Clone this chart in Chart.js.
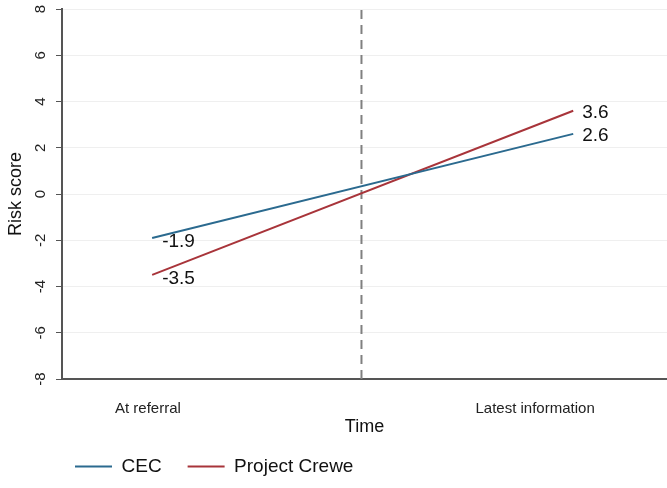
<!DOCTYPE html>
<html>
<head>
<meta charset="utf-8">
<script src="https://cdn.jsdelivr.net/npm/chart.js@4/dist/chart.umd.min.js"></script>
<style>
  html, body { margin: 0; padding: 0; background: #fff; }
  #wrap { width: 667px; height: 488px; }
</style>
</head>
<body>
<div id="wrap"><canvas id="riskChart"></canvas></div>
<script>
// values
var timeLabels = ["At referral", "Latest information"];
var timePos = [0.149, 0.845];      // where the two time points sit on the x axis
var labelPos = [0.142, 0.782];     // where the category labels are printed
var cecScores = [-1.9, 2.6];
var creweScores = [-3.5, 3.6];
var seriesNames = ["CEC", "Project Crewe"];
var dividerX = 0.495;
var yTicks = [-8, -6, -4, -2, 0, 2, 4, 6, 8];

var blue = "#2b6a8f";
var red = "#a8343a";
var font = "'Liberation Sans', Arial, sans-serif";

// small labels next to each end point
var pointLabels = {
    id: "pointLabels",
    afterDatasetsDraw: function(chart) {
        var ctx = chart.ctx;
        ctx.save();
        ctx.font = "19px " + font;
        ctx.fillStyle = "#111";
        ctx.textBaseline = "middle";
        ctx.textAlign = "left";
        [0, 1].forEach(function(d) {
            var meta = chart.getDatasetMeta(d);
            meta.data.forEach(function(pt, i) {
                var v = chart.data.datasets[d].data[i].y;
                var dx = i === 0 ? 10 : 9;
                var dy = i === 0 ? 4 : 2;
                ctx.fillText(v.toFixed(1), pt.x + dx, pt.y + dy);
            });
        });
        ctx.restore();
    }
};

// legend sits a bit to the right, like the original
var nudgeLegend = {
    id: "nudgeLegend",
    afterLayout: function(chart) {
        var lg = chart.legend;
        lg.left += 49;
        lg.right += 49;
        lg.top -= 9;
        lg.bottom -= 9;
    }
};

var el = document.getElementById("riskChart");
var riskChart = new Chart(el, {
    type: "line",
    data: {
        datasets: [{
            label: seriesNames[0],
            data: timePos.map(function(x, i) { return {x: x, y: cecScores[i]}; }),
            borderColor: blue,
            backgroundColor: blue,
            borderWidth: 2,
            pointRadius: 0
        }, {
            label: seriesNames[1],
            data: timePos.map(function(x, i) { return {x: x, y: creweScores[i]}; }),
            borderColor: red,
            backgroundColor: red,
            borderWidth: 2,
            pointRadius: 0
        }, {
            label: "divider",
            data: [{x: dividerX, y: yTicks[0]}, {x: dividerX, y: yTicks[yTicks.length - 1]}],
            borderColor: "#808080",
            borderWidth: 2,
            borderDash: [9, 6],
            pointRadius: 0
        }]
    },
    options: {
        responsive: true,
        maintainAspectRatio: false,
        animation: false,
        layout: { padding: { top: 9, right: 0, left: 0, bottom: -7 } },
        scales: {
            x: {
                type: "linear",
                min: 0,
                max: 1,
                grid: { display: false, drawTicks: false },
                border: { color: "#555", width: 2 },
                afterBuildTicks: function(scale) {
                    scale.ticks = labelPos.map(function(v) { return {value: v}; });
                },
                afterFit: function(scale) { scale.height = 61; },
                ticks: {
                    autoSkip: false,
                    maxRotation: 0,
                    padding: 21,
                    color: "#222",
                    font: { family: font, size: 15 },
                    callback: function(v) {
                        var i = labelPos.indexOf(v);
                        return i >= 0 ? timeLabels[i] : "";
                    }
                },
                title: {
                    display: true,
                    text: "Time",
                    color: "#111",
                    font: { family: font, size: 18 },
                    padding: { top: 0, bottom: 2 }
                }
            },
            y: {
                min: -8,
                max: 8,
                afterBuildTicks: function(scale) {
                    scale.ticks = yTicks.map(function(v) { return {value: v}; });
                },
                afterFit: function(scale) {
                    scale.width = 62;
                    scale.paddingTop = 0;
                    scale.paddingBottom = 0;
                },
                grid: { color: "#efefef", tickLength: 6, tickColor: "#555", tickWidth: 1 },
                border: { color: "#555", width: 2 },
                ticks: {
                    minRotation: 90,
                    maxRotation: 90,
                    crossAlign: "center",
                    padding: 8,
                    color: "#222",
                    font: { family: font, size: 15 }
                },
                title: {
                    display: true,
                    text: "Risk score",
                    color: "#111",
                    font: { family: font, size: 18 },
                    padding: { top: 5, bottom: 0 }
                }
            }
        },
        plugins: {
            legend: {
                position: "bottom",
                align: "start",
                labels: {
                    filter: function(item) { return item.datasetIndex < 2; },
                    boxWidth: 37,
                    boxHeight: 0,
                    padding: 26,
                    color: "#111",
                    font: { family: font, size: 19 }
                }
            },
            tooltip: { enabled: false }
        }
    },
    plugins: [pointLabels, nudgeLegend]
});
</script>
</body>
</html>
